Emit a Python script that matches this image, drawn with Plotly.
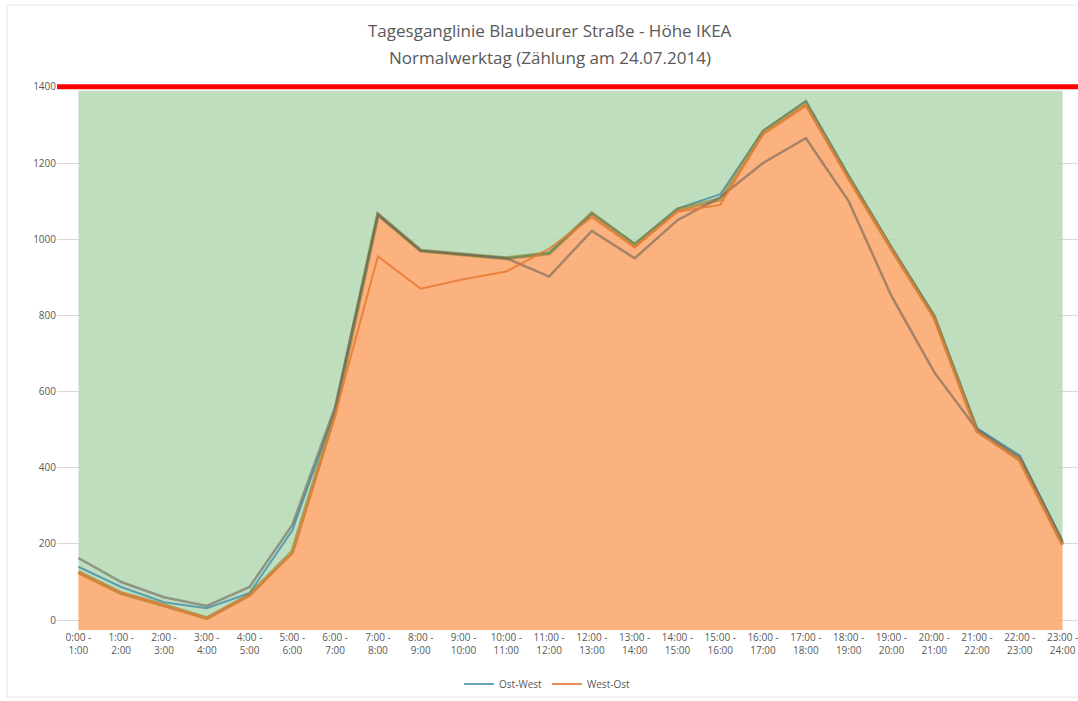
import plotly.graph_objects as go

hours = [f"{h}:00 -<br>{h+1}:00" for h in range(24)]
x_idx = list(range(24))
title_lines = ["Tagesganglinie Blaubeurer Straße - Höhe IKEA",
               "Normalwerktag (Zählung am 24.07.2014)"]

# Richtung Ost-West (blue line)
ost_west = [140, 87, 47, 31, 71, 236, 550, 1065, 970, 960, 950, 963, 1068, 988, 1080, 1118,
            1285, 1363, 1168, 980, 800, 504, 432, 208]
# Richtung West-Ost (orange line)
west_ost = [125, 71, 39, 5, 66, 175, 540, 955, 870, 895, 915, 975, 1058, 978, 1072, 1090,
            1275, 1350, 1158, 975, 792, 494, 420, 197]
# additional grey line
grey_line = [163, 100, 60, 37, 87, 250, 560, 1065, 970, 960, 950, 902, 1022, 950, 1050, 1110,
             1200, 1265, 1100, 851, 651, 500, 428, 205]
# orange area
area_vals = [126, 71, 39, 5, 66, 180, 545, 1065, 970, 960, 950, 963, 1068, 985, 1078, 1105,
             1282, 1358, 1162, 975, 796, 497, 421, 199]
area_base = [-26] * 24
green_top = [1390] * 24
limit = 1400

fig = go.Figure()
fig.add_trace(go.Scatter(x=x_idx, y=area_base, mode="lines", line=dict(width=0),
                         showlegend=False, hoverinfo="skip"))
fig.add_trace(go.Scatter(x=x_idx, y=area_vals, mode="lines", fill="tonexty",
                         fillcolor="rgba(250,165,105,0.86)",
                         line=dict(width=0),
                         showlegend=False, hoverinfo="skip"))
fig.add_trace(go.Scatter(x=x_idx, y=green_top, mode="lines", fill="tonexty",
                         fillcolor="rgba(179,216,179,0.86)",
                         line=dict(width=0), showlegend=False, hoverinfo="skip"))
fig.add_trace(go.Scatter(x=x_idx, y=ost_west, mode="lines", name="Ost-West",
                         line=dict(color="rgba(68,140,170,0.8)", width=2)))
fig.add_trace(go.Scatter(x=x_idx, y=area_vals, mode="lines",
                         line=dict(color="rgba(140,125,35,0.6)", width=4),
                         showlegend=False, hoverinfo="skip"))
fig.add_trace(go.Scatter(x=x_idx, y=grey_line, mode="lines",
                         line=dict(color="rgba(110,100,90,0.6)", width=2.5),
                         showlegend=False))
fig.add_trace(go.Scatter(x=x_idx, y=west_ost, mode="lines", name="West-Ost",
                         line=dict(color="rgba(232,120,50,0.85)", width=2)))

fig.add_shape(type="line", xref="paper", yref="y", x0=0.0, x1=1.0, y0=limit, y1=limit,
              line=dict(color="#FF0000", width=5), layer="above")
fig.add_shape(type="rect", xref="paper", yref="paper", x0=-0.0489, x1=1.05, y0=-0.122, y1=1.136,
              line=dict(color="#E6E6E6", width=1), layer="below")

fig.add_annotation(text=title_lines[0], xref="paper", yref="paper", x=0.4830, y=1.0909,
                   xanchor="center", yanchor="middle", showarrow=False,
                   font=dict(size=17, color="#595959"))
fig.add_annotation(text=title_lines[1], xref="paper", yref="paper", x=0.4830, y=1.0418,
                   xanchor="center", yanchor="middle", showarrow=False,
                   font=dict(size=17, color="#595959"))

fig.update_layout(
    width=1078, height=701,
    margin=dict(l=57, r=0, t=80, b=71, autoexpand=False),
    paper_bgcolor="white", plot_bgcolor="white",
    font=dict(family="Open Sans, Noto Sans, sans-serif", color="#595959"),
    xaxis=dict(range=[-0.5, 23.36], tickmode="array", tickvals=x_idx, ticktext=hours,
               showgrid=False, zeroline=False, showline=False, ticks="", automargin=False,
               ticklabeloverflow="allow",
               tickfont=dict(size=10, color="#595959"), tickangle=0),
    yaxis=dict(range=[-26, 1418], tickmode="array", tickvals=list(range(0, 1401, 200)),
               showgrid=True, gridcolor="#D9D9D9", gridwidth=1, zeroline=False, automargin=False,
               showline=False, ticks="", tickfont=dict(size=10, color="#595959")),
    legend=dict(orientation="h", x=0.48, xanchor="center", y=-0.098, yanchor="middle",
                traceorder="normal",
                font=dict(size=10, color="#595959"), bgcolor="rgba(0,0,0,0)"),
    showlegend=True,
)

fig.write_html("out.html", config={"displayModeBar": False},
               post_script="document.body.style.margin='0';document.body.style.overflow='hidden';")
